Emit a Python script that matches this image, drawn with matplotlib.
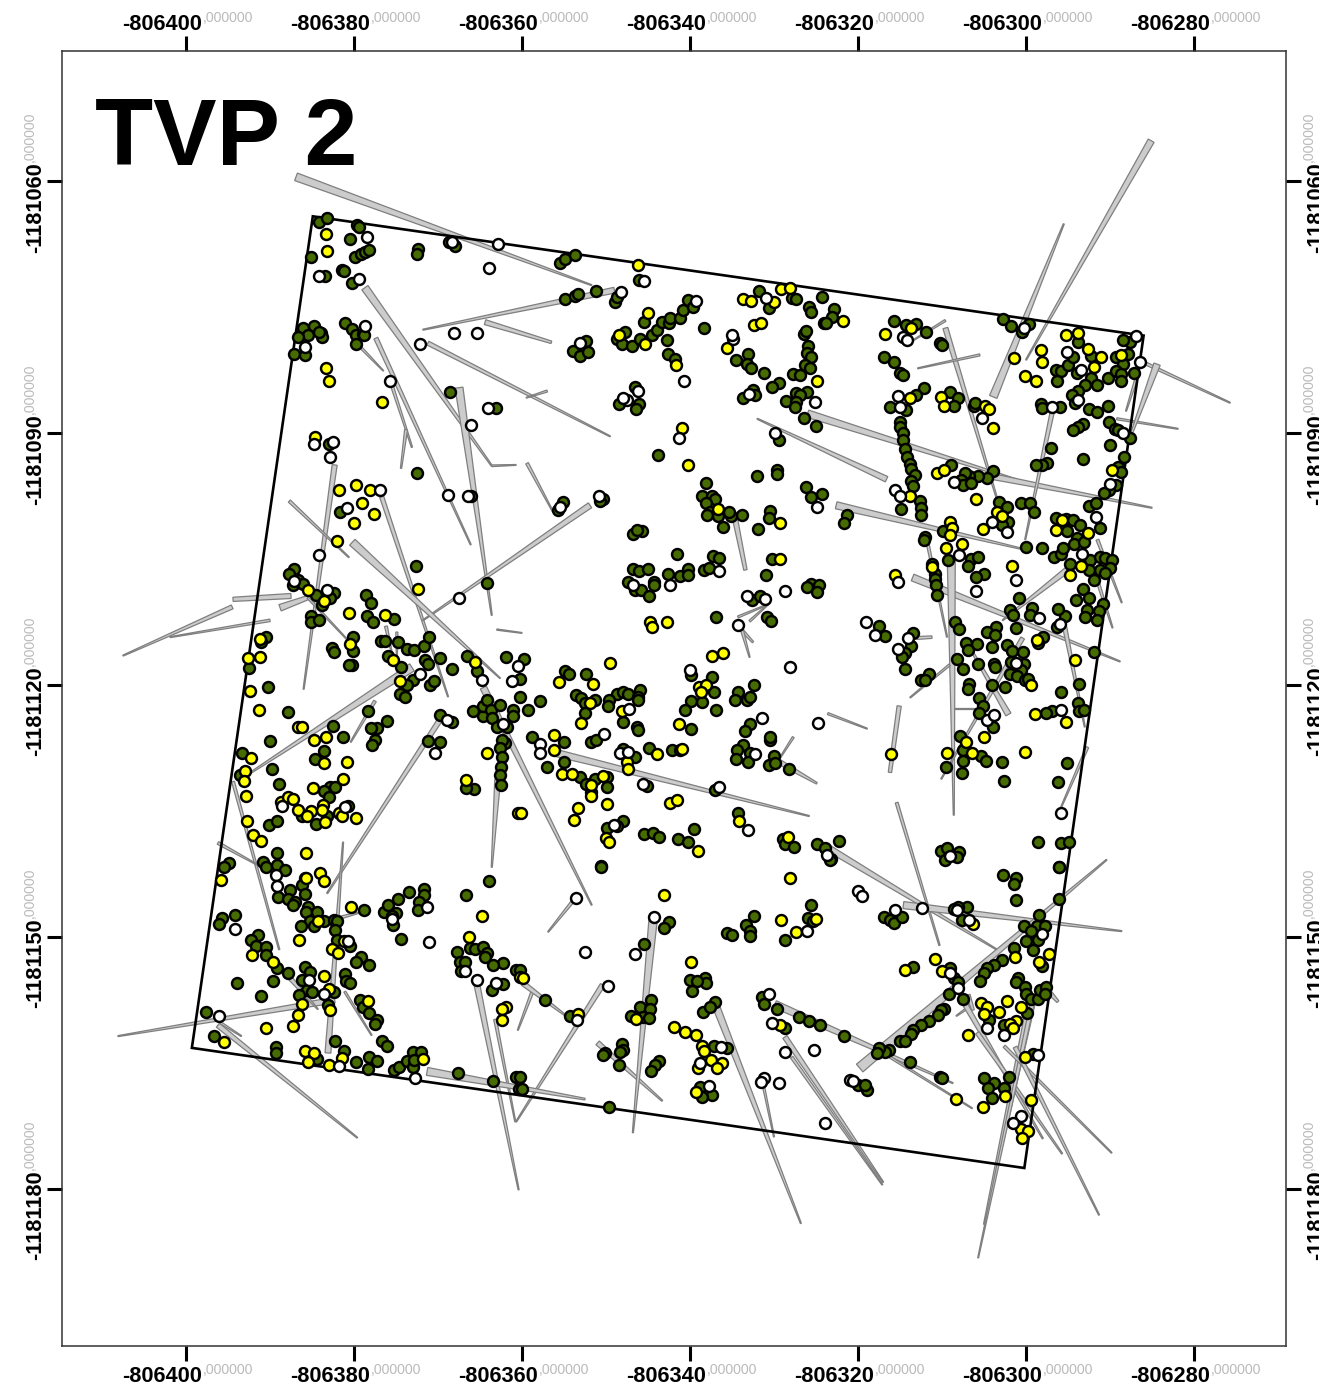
import matplotlib
matplotlib.use('Agg')
import matplotlib.pyplot as plt
from matplotlib.patches import Polygon
import numpy as np

plt.rcParams['font.family'] = ['Liberation Sans', 'DejaVu Sans']

# map origin, offsets below are metres east / south of it
X0 = -806400
Y0 = -1181060

xticks = [-806400, -806380, -806360, -806340, -806320, -806300, -806280]
yticks = [-1181060, -1181090, -1181120, -1181150, -1181180]

# plot outline (east, south)
plot_corners = [(15.1, 4.2), (114.0, 18.4), (99.8, 117.5), (0.7, 103.2)]

# stems: east1, south1, east2, south2, width1, width2
stems = [
    (13.1, -0.5, 48.3, 12.4, 0.95, 0.12), (21.3, 12.7, 36.4, 33.9, 0.9, 0.15), (36.4, 33.9, 39.3, 33.8, 0.2, 0.1),
    (51.0, 13.0, 28.2, 17.7, 0.7, 0.12), (35.6, 16.8, 43.5, 19.2, 0.6, 0.3), (28.8, 19.3, 50.5, 30.4, 0.5, 0.12),
    (43.0, 25.0, 40.5, 25.8, 0.25, 0.1), (22.6, 18.7, 33.9, 43.3, 0.5, 0.12), (20.5, 19.5, 23.5, 22.6, 0.3, 0.1),
    (24.3, 23.7, 26.9, 31.7, 0.35, 0.15), (26.2, 29.6, 25.6, 34.2, 0.35, 0.15), (32.5, 24.6, 36.4, 51.7, 0.95, 0.12),
    (17.7, 33.8, 14.0, 60.5, 0.6, 0.12), (12.3, 38.1, 19.4, 44.8, 0.35, 0.12), (23.3, 37.6, 31.2, 61.4, 0.5, 0.12),
    (40.6, 33.6, 43.7, 39.4, 0.35, 0.12), (48.1, 38.6, 28.2, 52.3, 0.7, 0.12), (19.8, 43.0, 37.4, 59.2, 0.95, 0.1),
    (5.6, 49.8, 12.5, 49.4, 0.5, 0.6), (5.5, 50.7, -7.5, 56.5, 0.5, 0.12), (10.0, 52.3, -1.9, 54.3, 0.3, 0.12),
    (11.2, 50.8, 14.5, 49.6, 0.8, 0.5), (14.5, 49.6, 19.2, 54.6, 0.25, 0.12), (37.0, 53.4, 40.0, 53.8, 0.15, 0.1),
    (26.9, 57.9, 7.3, 70.7, 1.0, 0.15), (30.2, 64.2, 16.8, 84.8, 0.6, 0.15), (22.5, 61.9, 19.6, 66.8, 0.35, 0.12),
    (5.6, 71.5, 11.1, 91.5, 0.35, 0.15), (3.8, 78.8, 8.5, 81.4, 0.35, 0.12), (16.9, 103.8, 18.7, 78.7, 0.7, 0.12),
    (37.1, 71.3, 36.4, 81.7, 0.7, 0.12), (35.4, 60.3, 48.3, 86.2, 0.8, 0.12), (44.1, 68.1, 74.2, 75.6, 0.85, 0.12),
    (65.4, 40.4, 66.6, 46.3, 0.6, 0.4), (65.7, 51.9, 69.3, 50.4, 0.25, 0.12), (67.1, 52.4, 69.3, 50.4, 0.25, 0.12),
    (66.2, 53.5, 67.5, 54.9, 0.35, 0.2), (66.2, 53.5, 67.1, 56.7, 0.35, 0.12), (76.4, 63.4, 81.1, 65.2, 0.25, 0.12),
    (72.3, 66.2, 70.7, 68.7, 0.25, 0.12), (70.7, 69.2, 75.1, 71.7, 0.6, 0.2), (86.5, 47.2, 111.2, 57.2, 0.85, 0.12),
    (91.1, 45.1, 91.4, 75.5, 0.95, 0.12), (88.2, 42.7, 90.6, 54.3, 0.35, 0.12), (104.9, 46.3, 97.2, 52.3, 0.7, 0.12),
    (87.0, 54.4, 88.8, 54.3, 0.35, 0.3), (90.9, 57.6, 86.2, 61.5, 0.25, 0.12), (84.9, 62.5, 83.8, 70.4, 0.5, 0.4),
    (99.6, 54.4, 89.9, 71.2, 0.5, 0.12), (97.9, 63.5, 93.0, 55.0, 0.7, 0.15), (91.4, 62.8, 94.3, 62.8, 0.12, 0.12),
    (104.6, 53.1, 107.0, 65.0, 0.5, 0.12), (107.3, 67.4, 104.2, 74.5, 0.35, 0.12), (84.6, 74.0, 89.7, 91.0, 0.35, 0.15),
    (108.5, 42.7, 111.4, 50.2, 0.35, 0.12), (108.6, 47.9, 110.3, 53.2, 0.35, 0.12), (74.0, 27.7, 100.9, 36.2, 0.9, 0.12),
    (83.4, 35.5, 68.0, 28.3, 0.7, 0.12), (77.4, 38.6, 100.4, 44.0, 0.85, 0.12), (96.1, 35.2, 115.0, 38.9, 0.7, 0.12),
    (90.4, 17.5, 96.6, 38.0, 0.6, 0.15), (90.4, 16.6, 86.5, 19.0, 0.25, 0.12), (94.5, 20.7, 87.1, 22.3, 0.25, 0.12),
    (96.1, 25.7, 104.5, 5.1, 0.95, 0.12), (114.9, -4.8, 100.0, 21.3, 0.8, 0.12), (103.1, 27.6, 99.9, 42.7, 0.5, 0.12),
    (110.8, 28.3, 118.1, 29.5, 0.25, 0.12), (114.2, 21.7, 124.3, 26.4, 0.35, 0.12), (115.6, 21.8, 112.4, 30.5, 0.8, 0.2),
    (113.2, 23.3, 111.9, 27.4, 0.35, 0.12), (76.1, 79.2, 96.7, 91.6, 0.8, 0.12), (85.4, 86.2, 111.4, 89.3, 0.85, 0.12),
    (80.2, 105.6, 109.6, 80.8, 1.2, 0.12), (70.1, 98.0, 91.3, 107.4, 0.9, 0.12), (83.8, 104.3, 93.6, 110.4, 0.25, 0.12),
    (93.1, 96.9, 93.7, 98.7, 0.5, 0.3), (93.1, 98.4, 91.7, 99.4, 0.25, 0.12), (92.8, 98.1, 102.0, 114.0, 0.6, 0.15),
    (94.2, 101.4, 104.3, 115.8, 0.5, 0.15), (100.7, 97.4, 95.0, 124.2, 1.0, 0.12), (100.7, 98.1, 94.3, 128.2, 0.5, 0.1),
    (97.4, 103.0, 110.2, 115.7, 0.35, 0.12), (98.7, 103.1, 108.7, 123.1, 0.5, 0.12), (102.9, 96.7, 103.8, 97.7, 0.5, 0.3),
    (49.0, 102.6, 56.7, 109.5, 0.6, 0.15), (55.6, 88.0, 53.2, 113.3, 1.0, 0.12), (46.0, 85.8, 43.1, 89.4, 0.35, 0.12),
    (49.6, 95.7, 39.3, 112.0, 0.6, 0.12), (41.2, 96.6, 39.5, 101.1, 0.35, 0.12), (34.6, 95.5, 39.6, 120.1, 0.7, 0.12),
    (36.8, 99.8, 39.2, 112.0, 0.35, 0.12), (28.7, 106.0, 47.5, 109.3, 0.95, 0.2), (17.7, 97.5, -8.1, 101.8, 0.7, 0.12),
    (3.8, 100.5, 20.4, 113.9, 0.6, 0.12), (4.1, 100.2, 6.6, 101.8, 0.25, 0.12), (12.4, 94.9, 15.7, 98.6, 0.5, 0.12),
    (40.1, 95.5, 45.4, 99.5, 0.6, 0.15), (18.9, 96.5, 22.1, 101.7, 0.25, 0.12), (18.3, 87.7, 21.0, 87.0, 0.35, 0.12),
    (71.3, 101.9, 83.0, 119.2, 0.6, 0.12), (72.1, 104.3, 82.9, 119.5, 0.35, 0.12), (63.2, 98.5, 73.2, 124.1, 0.85, 0.12),
    (68.8, 108.0, 70.0, 113.8, 0.25, 0.12), (23.8, 53.0, 24.5, 56.2, 0.35, 0.12), (25.1, 53.7, 25.1, 56.7, 0.25, 0.12),
]

# tree positions in 3 x 3 survey blocks, metres east / south of each block's corner
block_e = [0.48, 39.76, 79.05]
block_s = [3.45, 42.74, 80.83]

# green = alive
green_nw = [(15.4,1.4),(16.3,1.0),(19.9,1.8),(20.1,2.0),(19.1,3.5),(14.4,5.6),(19.6,5.6),(20.3,5.2),(20.8,5.0),(21.3,4.8),(27.1,4.6),(27.0,5.2),(31.5,4.3),(30.8,3.8),(18.1,7.1),(18.3,7.3),(16.1,7.8),(19.3,8.7),(18.5,13.4),(19.3,14.2),(13.5,14.0),(14.7,13.8),(14.0,14.9),(12.9,15.1),(15.6,14.7),(15.7,15.1),(15.3,14.5),(19.8,14.9),(20.6,14.8),(20.7,14.9),(19.7,16.0),(12.4,17.1),(13.7,17.3),(30.9,21.7),(36.4,23.6),(27.0,31.3),(33.5,34.0),(17.9,36.0),(16.5,27.9)]
green_n = [(4.8,6.3),(5.4,5.8),(6.5,5.4),(5.3,10.6),(6.5,10.2),(6.9,10.0),(9.0,9.6),(11.3,10.9),(11.5,10.4),(14.2,8.3),(14.8,13.3),(12.5,14.5),(11.5,15.3),(12.1,15.9),(13.3,16.2),(14.3,15.4),(15.7,14.9),(16.3,14.3),(16.9,13.3),(17.7,13.5),(17.9,12.9),(19.0,12.9),(19.4,11.9),(20.0,10.7),(20.6,11.5),(17.5,15.5),(17.6,17.1),(18.5,17.7),(21.9,14.0),(7.9,15.6),(6.3,16.8),(7.1,17.4),(8.1,16.9),(13.7,21.1),(11.8,23.1),(14.2,23.1),(13.8,23.7),(28.5,9.6),(29.6,11.7),(32.4,10.5),(32.8,10.6),(36.0,10.3),(34.4,11.6),(34.6,12.1),(37.4,11.8),(37.2,12.7),(36.2,13.4),(36.4,13.5),(33.8,14.8),(34.1,14.4),(34.3,16.2),(34.2,17.0),(34.7,17.5),(33.9,18.5),(34.5,18.8),(27.2,17.2),(25.7,17.9),(27.0,18.3),(27.5,18.8),(29.0,19.4),(32.5,19.5),(33.3,19.6),(30.8,20.6),(30.0,21.1),(27.7,21.4),(28.0,22.0),(26.5,22.4),(32.8,21.8),(34.2,21.7),(33.3,22.0),(31.7,22.7),(32.9,22.8),(32.7,23.4),(33.8,24.8),(35.2,25.7),(30.8,27.4),(30.6,31.0),(30.6,31.4),(28.2,31.7),(34.0,33.0),(34.6,34.2),(36.0,33.8),(16.4,29.2),(22.1,32.5),(21.7,34.0),(22.8,34.1),(23.2,34.4),(22.2,34.9),(22.6,35.9),(22.3,36.3),(23.6,36.4),(25.1,36.4),(26.4,36.3),(24.2,37.7),(24.9,35.9),(29.8,35.8),(29.7,36.7),(28.3,38.0),(14.5,38.2),(13.4,38.6),(13.9,38.1),(38.9,36.3),(38.6,37.3),(5.1,34.8),(4.5,35.7),(9.9,34.4),(9.5,34.6)]
green_ne = [(5.2,13.2),(6.7,13.7),(7.9,13.6),(9.0,14.5),(10.7,15.8),(11.0,16.1),(4.1,17.5),(5.2,18.1),(6.0,19.4),(6.3,19.7),(8.8,21.2),(7.9,22.0),(4.8,23.5),(6.7,23.8),(6.0,25.2),(6.0,25.8),(6.3,26.6),(6.3,27.4),(6.5,28.4),(6.8,29.4),(7.1,30.2),(7.3,30.8),(7.7,31.6),(7.3,32.3),(7.5,32.9),(8.3,34.6),(8.4,35.5),(8.5,36.3),(6.1,35.6),(12.0,30.4),(11.9,21.7),(12.9,22.4),(12.4,23.3),(14.8,23.3),(14.9,23.0),(18.2,13.0),(19.2,13.8),(20.5,14.5),(21.3,13.6),(22.7,23.1),(22.9,23.6),(25.0,23.5),(24.5,19.0),(25.1,19.2),(24.6,20.3),(26.0,18.5),(26.6,17.5),(27.1,15.7),(28.7,17.4),(27.0,19.4),(28.7,20.0),(28.0,20.8),(29.4,20.8),(30.7,20.0),(27.1,21.5),(26.4,22.0),(26.8,23.0),(28.5,23.7),(29.4,24.0),(30.7,23.3),(30.8,25.2),(31.6,26.1),(31.9,26.2),(33.3,27.1),(27.7,25.5),(27.1,25.8),(26.6,26.2),(23.9,28.3),(27.7,29.7),(30.9,28.0),(32.6,29.4),(31.9,30.6),(23.5,30.1),(22.8,30.4),(22.1,30.4),(32.3,31.2),(31.7,32.7),(30.8,33.3),(30.2,33.7),(17.0,31.1),(16.3,31.9),(15.2,31.7),(14.2,31.7),(13.7,31.3),(13.2,32.1),(13.5,32.7),(14.4,32.5),(17.7,34.8),(18.7,35.4),(20.4,34.9),(21.4,34.9),(21.9,36.0),(18.8,37.2),(18.1,37.5),(24.5,36.7),(25.7,36.8),(26.6,36.9),(27.4,37.5),(25.8,38.2),(27.0,39.1),(28.4,35.2),(29.3,34.9),(29.8,37.9),(8.9,38.9),(11.1,38.2),(33.1,17.1),(33.3,15.7),(32.5,15.5),(31.7,17.5),(32.5,18.3),(31.7,19.2),(32.3,19.5),(33.8,19.4),(32.3,20.4)]
green_w = [(12.4,3.4),(11.8,4.0),(12.9,4.8),(12.3,5.4),(13.5,5.2),(15.0,6.5),(17.1,6.3),(16.7,6.9),(15.7,7.7),(14.4,9.1),(14.4,9.7),(15.3,9.5),(20.9,6.5),(21.5,7.5),(21.1,9.1),(21.8,9.8),(24.3,9.4),(9.0,11.5),(8.4,12.1),(19.4,11.5),(19.4,13.2),(16.9,12.8),(17.1,13.3),(19.3,14.9),(18.9,14.9),(22.7,12.0),(23.2,12.0),(24.7,12.1),(25.8,13.0),(26.7,13.1),(27.8,12.6),(28.5,11.6),(23.6,13.8),(25.1,15.1),(28.0,14.3),(28.3,14.8),(29.8,14.0),(31.2,15.4),(33.0,13.8),(34.2,15.6),(37.6,13.9),(7.0,15.2),(9.3,17.5),(26.5,16.7),(25.8,17.3),(25.0,18.3),(25.6,18.7),(28.6,17.2),(29.1,16.8),(11.7,20.5),(21.2,20.3),(23.4,21.5),(17.0,22.1),(18.2,23.4),(9.5,23.9),(22.2,22.4),(21.6,22.4),(22.0,23.8),(21.7,24.4),(15.9,25.1),(14.9,26.1),(28.3,23.9),(29.8,24.0),(29.7,20.8),(31.2,21.7),(6.2,25.3),(6.0,28.0),(9.8,27.2),(10.6,29.1),(16.7,29.4),(17.3,29.4),(15.9,29.9),(16.5,30.6),(33.8,29.6),(32.9,29.5),(33.7,20.3),(34.9,20.9),(34.9,19.7),(35.4,19.0),(35.8,20.2),(36.9,19.6),(36.0,21.2),(36.5,22.2),(37.7,22.2),(38.4,20.2),(38.5,21.0),(37.5,24.2),(37.1,23.8),(36.9,24.8),(37.1,25.8),(37.0,27.0),(36.9,28.0),(37.0,29.2),(18.8,31.7),(16.3,32.9),(13.3,32.9),(15.0,33.8),(9.4,33.9),(10.4,33.5),(26.9,3.1),(35.3,5.1),(10.3,37.2)]
green_c = [(18.7,1.7),(23.0,1.9),(23.7,2.1),(30.0,2.3),(13.5,3.5),(14.2,3.7),(15.2,3.4),(17.6,4.0),(19.0,4.3),(20.0,3.4),(20.0,4.2),(21.9,3.6),(22.5,3.3),(29.3,4.2),(12.8,5.0),(13.7,6.0),(14.4,6.0),(16.0,5.0),(16.0,5.4),(15.4,6.7),(34.6,5.2),(34.2,5.6),(35.6,5.4),(35.3,6.2),(27.6,7.1),(28.6,6.7),(23.3,9.2),(29.4,9.2),(29.9,9.6),(5.4,15.6),(5.8,15.9),(7.8,15.9),(22.8,16.3),(20.4,16.1),(27.8,17.3),(14.3,17.9),(11.5,18.3),(12.3,18.1),(12.9,18.3),(14.0,18.7),(14.1,19.1),(6.7,18.5),(7.3,18.8),(8.9,19.0),(7.7,19.4),(7.7,20.6),(10.6,19.0),(10.5,19.8),(23.1,18.1),(25.9,18.1),(25.6,19.1),(27.0,19.1),(27.4,18.7),(20.4,19.2),(21.7,19.3),(19.6,20.2),(23.3,20.2),(2.4,19.2),(1.0,20.2),(12.3,21.7),(13.9,22.2),(14.1,22.6),(20.4,22.5),(27.4,21.9),(26.8,22.7),(1.4,23.5),(5.2,24.0),(8.5,24.0),(9.0,23.8),(15.3,24.8),(18.1,25.0),(19.0,25.0),(13.7,25.8),(12.3,24.9),(26.6,24.4),(25.8,25.0),(25.7,26.1),(27.4,25.4),(27.2,26.4),(29.8,23.8),(29.8,23.5),(30.2,25.7),(29.6,26.8),(30.4,26.6),(32.0,27.3),(5.2,26.4),(3.2,27.0),(7.1,28.2),(10.3,28.2),(8.9,28.4),(7.9,29.0),(10.4,29.4),(8.5,30.0),(23.2,29.8),(15.1,29.3),(26.0,32.5),(12.3,33.5),(10.3,34.3),(11.5,34.1),(14.8,35.0),(15.8,34.9),(16.5,35.3),(18.8,35.6),(20.0,36.0),(20.7,34.4),(9.7,38.8),(31.3,35.6),(31.5,36.2),(32.6,36.6),(35.4,36.2),(38.0,35.8),(36.3,36.7),(37.0,38.0),(0.0,18.7),(0.0,16.5),(0.5,14.2)]
green_e = [(20.9,0.8),(22.9,1.0),(24.3,2.0),(25.1,1.7),(25.3,0.9),(26.7,0.5),(27.8,0.2),(8.8,0.0),(11.7,2.4),(14.4,2.2),(15.2,2.0),(14.1,3.1),(15.9,4.1),(15.0,4.4),(9.7,2.8),(10.1,4.0),(10.1,4.6),(10.2,5.4),(10.4,6.6),(26.2,2.9),(28.6,2.4),(29.8,2.0),(30.4,2.1),(31.2,2.4),(31.0,3.3),(29.8,3.6),(28.4,3.6),(30.4,3.9),(29.0,4.7),(27.7,5.8),(26.9,7.1),(28.4,6.9),(20.1,6.9),(30.1,7.6),(29.6,8.5),(28.2,8.3),(28.0,9.2),(29.4,9.5),(25.6,9.0),(24.7,8.2),(24.6,10.4),(21.7,8.1),(21.4,8.9),(19.0,8.3),(19.4,8.9),(19.8,10.5),(12.5,9.7),(13.0,10.6),(17.4,10.4),(16.3,11.0),(17.3,11.3),(23.0,11.6),(22.4,12.2),(3.5,10.2),(4.2,11.4),(7.5,11.1),(7.2,12.6),(6.5,13.5),(6.2,13.9),(6.5,15.3),(13.8,12.2),(15.1,12.4),(14.0,13.1),(16.9,12.7),(18.7,12.5),(19.3,13.2),(20.6,13.3),(29.1,13.3),(12.7,14.2),(13.4,15.4),(15.2,14.8),(17.1,14.7),(17.3,15.1),(19.2,14.5),(19.0,15.9),(20.7,14.8),(20.4,15.5),(19.9,16.2),(20.8,16.7),(21.2,16.5),(9.4,15.9),(8.5,16.7),(8.9,16.7),(16.9,17.3),(18.4,17.5),(14.2,17.1),(14.0,17.7),(15.4,18.8),(15.8,19.7),(15.3,20.6),(17.0,22.2),(25.1,18.1),(27.3,17.1),(27.1,19.4),(27.2,20.4),(27.9,20.2),(24.0,20.3),(23.3,20.6),(13.1,23.3),(13.5,25.0),(15.6,25.7),(16.2,26.3),(13.4,26.3),(11.4,27.0),(13.3,27.7),(18.1,26.4),(18.3,28.7),(25.8,26.5),(24.8,28.8),(22.4,35.9),(25.1,36.1),(26.1,35.9),(24.9,38.9),(10.8,37.0),(11.6,36.7),(13.0,37.1),(11.3,38.1),(12.7,37.7)]
green_sw = [(4.6,0.3),(4.0,0.8),(8.7,0.2),(9.1,0.8),(10.3,0.6),(11.3,1.2),(13.7,2.2),(13.3,3.0),(13.7,4.0),(11.9,3.6),(10.5,4.4),(11.7,4.6),(12.5,5.0),(12.2,5.4),(14.0,5.6),(13.8,6.2),(15.1,6.2),(14.3,7.3),(13.2,7.8),(14.8,7.8),(15.9,7.3),(17.1,7.1),(17.5,7.3),(17.2,8.3),(20.7,5.9),(23.1,6.2),(23.6,5.4),(24.8,4.6),(26.1,3.8),(27.9,3.5),(27.8,4.2),(27.2,5.0),(27.1,6.0),(24.5,6.3),(24.1,6.7),(24.2,7.7),(25.1,9.4),(5.4,6.5),(3.8,6.9),(3.5,7.6),(8.1,8.9),(7.3,9.5),(7.9,10.2),(9.0,10.3),(9.1,11.3),(10.4,12.8),(11.7,13.5),(13.7,12.7),(14.3,13.3),(13.3,14.3),(13.9,15.5),(14.5,15.7),(13.0,16.1),(17.1,15.7),(16.4,17.3),(18.5,13.6),(18.6,14.4),(19.0,14.6),(20.4,11.5),(19.8,12.2),(21.3,12.5),(5.6,14.7),(9.9,14.4),(8.5,16.2),(20.2,16.7),(20.6,17.5),(21.3,18.2),(22.2,19.1),(22.0,19.5),(22.9,21.5),(23.5,22.1),(1.9,18.1),(2.8,21.0),(10.2,22.3),(10.2,23.0),(17.3,21.6),(18.3,22.7),(15.1,23.7),(19.8,24.0),(21.3,23.5),(22.2,23.9),(21.2,24.9),(24.3,25.0),(24.9,24.6),(25.8,23.9),(26.5,22.8),(27.5,22.9),(26.5,24.7),(26.7,23.8),(35.6,2.5),(32.8,4.2),(17.5,9.5),(19.0,10.2),(31.8,10.9),(33.3,10.5),(33.9,10.6),(34.9,10.3),(35.4,11.1),(35.1,11.5),(37.2,12.3),(36.1,12.5),(38.8,13.1),(32.1,12.2),(32.7,12.1),(32.3,13.2),(36.0,15.5),(37.2,14.8),(31.9,25.4),(36.1,26.3),(38.8,25.8),(39.2,27.3)]
green_s = [(9.7,0.8),(17.7,7.4),(17.2,8.1),(14.8,10.0),(20.2,14.3),(22.0,14.0),(22.1,14.7),(21.1,14.4),(20.5,15.6),(3.0,16.7),(6.0,18.6),(0.0,13.1),(15.6,16.7),(14.3,17.5),(15.5,17.7),(13.2,18.6),(14.7,18.7),(15.3,18.8),(23.2,16.9),(21.8,18.1),(22.6,17.5),(12.2,21.9),(12.3,22.6),(11.9,22.9),(10.1,23.0),(9.9,23.2),(11.8,24.4),(16.5,23.9),(16.1,24.4),(15.6,25.1),(0.0,25.8),(0.2,27.3),(10.6,29.4),(34.7,5.3),(27.9,6.7),(26.9,7.7),(27.4,8.5),(27.4,9.1),(24.7,8.7),(25.2,8.9),(34.3,6.9),(34.9,7.3),(31.6,9.5),(28.8,16.3),(29.1,17.1),(30.6,17.7),(33.2,18.7),(34.4,19.2),(35.7,19.6),(38.6,20.9),(31.5,20.0),(23.1,22.1),(24.7,22.4),(21.4,27.0),(22.8,28.0),(21.7,28.2),(36.9,0.0)]
green_se = [(18.2,1.8),(19.8,2.1),(19.5,2.9),(19.7,4.8),(24.9,0.8),(24.9,4.7),(22.5,6.5),(20.7,7.8),(22.2,7.9),(23.2,7.9),(21.6,8.5),(22.4,9.5),(21.0,9.7),(21.8,10.7),(19.5,10.5),(18.1,11.9),(17.1,12.5),(16.3,12.9),(15.9,13.5),(15.5,14.4),(13.9,5.6),(12.8,5.6),(12.4,5.8),(13.3,7.1),(4.0,6.8),(4.7,7.1),(5.2,7.5),(6.2,6.8),(11.9,12.9),(12.4,14.1),(12.9,14.5),(11.8,15.9),(13.4,16.6),(11.2,17.7),(10.8,17.9),(10.5,18.5),(9.4,19.2),(8.5,19.6),(7.5,20.2),(7.3,20.7),(6.0,21.5),(6.6,21.6),(4.6,22.6),(4.2,22.9),(3.4,22.4),(3.2,23.0),(7.1,24.1),(10.7,25.8),(11.0,25.9),(1.0,26.8),(2.0,27.4),(1.8,26.8),(20.0,14.0),(19.8,14.5),(20.8,15.1),(21.0,15.9),(21.5,16.5),(22.4,16.5),(22.6,15.5),(23.3,15.1),(23.2,15.9),(21.1,18.2),(16.5,19.1),(18.3,19.6),(15.9,26.0),(17.1,26.6),(16.4,27.2),(16.9,28.3),(18.9,25.8),(18.3,27.2),(22.9,12.6),(21.8,23.1),(7.5,12.7)]

# yellow = leaning / damaged
yellow_nw = [(16.2,2.8),(16.3,4.9),(16.2,18.8),(16.6,20.3),(22.8,22.8),(14.9,27.0),(17.7,33.3),(19.8,32.7),(21.4,33.3),(20.5,34.9),(21.9,36.2),(19.5,37.3),(17.5,39.4)]
yellow_n = [(14.1,6.5),(15.2,12.3),(11.8,14.9),(14.9,15.9),(18.6,18.4),(26.6,10.6),(27.5,10.8),(31.1,9.4),(32.1,9.3),(30.2,11.0),(27.9,13.7),(28.7,13.5),(38.4,13.2),(24.6,16.4),(35.4,20.3),(19.3,26.0),(20.0,30.4),(23.6,35.6),(31.0,37.3)]
yellow_ne = [(4.2,14.8),(7.3,14.1),(7.1,22.4),(10.8,22.3),(11.2,23.3),(16.1,23.3),(16.5,23.7),(17.0,25.9),(19.5,17.6),(22.7,16.7),(22.9,18.1),(20.8,19.8),(22.1,20.4),(25.7,14.9),(27.1,14.7),(28.3,16.6),(29.9,17.5),(29.0,18.7),(32.2,17.3),(31.2,31.0),(10.3,31.3),(11.2,31.0),(7.1,34.0),(15.0,34.4),(17.5,36.0),(18.1,36.4),(15.8,38.0),(25.2,36.9),(24.5,38.1),(28.3,38.5),(11.9,37.2),(12.1,37.9),(11.9,38.7)]
yellow_w = [(14.0,6.0),(16.0,7.3),(18.9,8.7),(23.2,8.9),(27.1,5.8),(8.3,11.8),(6.9,14.0),(8.3,13.9),(19.1,12.4),(24.2,14.3),(25.0,16.8),(33.9,14.5),(7.1,18.0),(8.2,20.2),(12.8,22.3),(13.3,22.2),(14.8,23.8),(16.2,23.4),(7.3,25.9),(6.5,27.5),(6.4,28.7),(16.0,26.5),(18.7,26.4),(14.6,29.5),(18.2,28.5),(35.4,25.4),(32.8,28.6),(6.7,30.5),(10.8,31.2),(11.7,30.6),(12.3,30.8),(12.8,32.1),(14.4,32.2),(13.9,32.9),(15.8,31.5),(15.7,32.1),(17.7,32.5),(18.1,32.8),(16.1,33.6),(19.7,33.1),(6.8,33.4),(7.5,35.1),(8.4,35.8),(13.8,37.3),(39.1,32.5)]
yellow_c = [(31.0,2.3),(15.5,9.8),(15.7,10.4),(17.5,9.7),(22.9,13.8),(24.2,13.4),(10.7,14.6),(4.7,16.9),(8.7,17.1),(21.3,17.5),(22.1,17.3),(21.6,18.1),(8.3,19.4),(12.2,20.4),(7.3,21.8),(18.9,21.9),(4.1,23.2),(4.1,25.0),(16.3,25.5),(19.3,24.9),(12.7,26.4),(12.8,27.2),(5.0,27.9),(6.2,27.9),(9.9,28.1),(8.4,29.2),(8.4,30.5),(10.3,31.4),(6.9,31.9),(6.4,33.3),(17.8,31.3),(18.7,31.0),(26.1,33.5),(31.9,35.4),(10.2,35.5),(10.6,35.9),(21.2,37.0),(0.1,32.5)]
yellow_e = [(11.4,1.0),(13.3,0.5),(9.7,3.2),(19.3,3.1),(27.5,3.1),(26.2,4.2),(5.4,4.2),(22.3,11.9),(26.8,14.3),(21.5,17.3),(22.0,20.7),(25.7,21.7),(15.9,23.4),(13.8,24.0),(14.5,25.4),(11.6,25.3),(20.8,25.2),(4.9,25.5)]
yellow_sw = [(3.7,2.4),(13.8,2.2),(15.5,1.6),(16.0,2.5),(19.2,5.6),(15.2,7.3),(13.0,9.5),(16.9,10.6),(17.6,11.1),(18.3,9.7),(7.4,11.3),(9.9,12.2),(16.0,13.8),(16.6,15.4),(13.3,17.1),(16.7,17.9),(12.9,18.5),(12.2,19.8),(9.0,20.0),(21.2,16.8),(4.1,21.7),(13.7,22.7),(14.8,23.0),(14.0,24.0),(16.5,24.4),(18.1,23.6),(27.7,23.7),(34.7,6.7),(33.2,9.2),(37.6,17.5),(37.1,17.7),(37.1,19.0),(39.3,13.9)]
yellow_s = [(17.1,4.2),(32.1,2.2),(31.1,7.2),(32.9,8.6),(35.2,7.0),(20.3,12.1),(0.3,14.0),(6.9,18.3),(13.8,18.9),(18.3,19.9),(19.6,20.5),(21.0,20.8),(21.7,22.2),(21.9,22.7),(22.7,23.8),(24.1,24.2),(23.4,24.8),(21.2,24.8),(20.9,27.6),(30.9,19.6)]
yellow_se = [(6.5,13.1),(10.1,11.8),(11.0,13.2),(14.6,7.6),(19.6,11.6),(23.7,11.2),(22.5,12.2),(15.6,17.0),(16.3,17.5),(15.9,18.3),(17.7,18.1),(18.7,16.8),(20.3,17.5),(14.0,20.8),(19.8,19.2),(19.0,19.5),(19.4,20.0),(20.8,23.5),(12.6,28.5),(15.8,29.4),(18.5,28.1),(21.5,28.6),(20.3,32.0),(21.2,32.3),(20.5,33.1)]

# white = dead
white_nw = [(21.1,3.2),(31.2,3.8),(36.7,4.1),(35.6,6.9),(15.4,7.8),(20.1,8.2),(20.8,13.8),(31.4,14.6),(34.2,14.6),(27.4,16.0),(13.7,16.3),(23.8,20.3),(33.4,25.6),(35.5,23.6),(14.8,27.9),(17.0,27.6),(16.7,29.4),(30.7,33.9),(33.1,34.1),(18.7,35.5),(22.6,33.3)]
white_n = [(14.8,8.5),(12.0,9.8),(21.0,10.8),(7.1,15.8),(14.0,21.5),(12.7,22.6),(12.3,22.4),(29.3,10.5),(25.4,15.3),(25.2,14.9),(27.3,21.9),(35.1,22.9),(19.5,20.3),(18.9,27.2),(30.3,26.5),(35.4,35.4),(4.8,35.3),(9.4,34.0)]
white_ne = [(6.3,15.1),(6.8,15.5),(5.7,22.1),(6.0,23.4),(15.7,24.8),(20.7,14.1),(24.0,23.5),(25.8,16.9),(27.5,19.0),(27.1,22.6),(34.0,15.0),(34.5,18.1),(32.5,26.6),(30.9,32.6),(12.4,32.4),(5.4,33.3),(6.0,34.0),(16.9,37.2),(18.7,38.3),(29.3,36.6)]
white_w = [(15.4,1.8),(12.4,4.9),(16.3,6.0),(32.0,6.9),(27.4,15.9),(34.8,16.7),(38.3,16.8),(30.6,21.4),(29.2,25.3),(37.2,21.9),(10.9,31.7),(18.5,31.8),(39.1,15.0)]
white_c = [(23.7,3.7),(13.5,5.4),(17.8,5.3),(31.6,6.1),(27.0,6.7),(29.2,7.0),(26.0,10.1),(20.2,15.5),(32.1,15.1),(13.0,20.1),(10.0,23.1),(2.4,24.3),(2.4,25.3),(11.9,25.4),(12.8,25.2),(28.0,25.5),(28.8,21.2),(35.5,21.8),(23.7,29.4),(14.7,29.0),(27.1,34.5),(11.2,33.9),(36.5,37.5)]
white_e = [(13.0,1.8),(27.6,1.7),(5.7,5.0),(19.8,4.8),(15.0,6.1),(22.5,9.3),(25.0,10.0),(1.9,9.7),(3.0,11.3),(6.9,11.7),(5.7,13.0),(19.8,14.6),(25.1,20.2),(16.3,21.4),(17.1,20.8),(25.1,32.5),(11.9,37.6)]
white_sw = [(10.2,1.8),(10.4,3.1),(24.1,7.0),(28.2,5.6),(28.5,9.8),(5.4,8.2),(18.8,9.6),(14.2,14.3),(15.9,16.0),(3.4,18.6),(17.7,24.5),(26.8,26.0),(32.7,13.2),(34.2,14.3),(36.4,14.6)]
white_s = [(6.7,4.5),(16.0,6.8),(7.7,11.0),(13.7,11.2),(10.5,15.0),(6.8,19.0),(34.2,8.5),(29.6,16.0),(30.0,19.4),(31.5,22.8),(35.0,22.6),(23.9,22.3),(21.4,24.2),(22.5,26.9),(29.0,26.0),(28.7,26.4),(30.8,26.5),(36.3,31.3),(39.3,26.2)]
white_se = [(1.0,3.7),(1.4,4.3),(5.4,6.0),(8.6,5.7),(12.7,6.0),(14.2,7.2),(22.8,8.8),(11.9,13.4),(12.9,15.2),(16.3,20.0),(18.3,20.8),(22.4,23.2),(0.4,26.3),(20.3,30.5),(19.4,31.3)]

greens = [green_nw, green_n, green_ne, green_w, green_c, green_e, green_sw, green_s, green_se]
yellows = [yellow_nw, yellow_n, yellow_ne, yellow_w, yellow_c, yellow_e, yellow_sw, yellow_s, yellow_se]
whites = [white_nw, white_n, white_ne, white_w, white_c, white_e, white_sw, white_s, white_se]


def block_xy(blocks):
    xs, ys = [], []
    for i, pts in enumerate(blocks):
        for e, s in pts:
            xs.append(X0 + block_e[i % 3] + e)
            ys.append(Y0 - block_s[i // 3] - s)
    return xs, ys


fig = plt.figure(figsize=(13.19, 13.88), dpi=100)
ax = fig.add_axes([62/1319, 42/1388, 1224/1319, 1295/1388])

# stems as tapered polygons
for e1, s1, e2, s2, w1, w2 in stems:
    a = np.array([X0 + e1, Y0 - s1])
    b = np.array([X0 + e2, Y0 - s2])
    n = np.array([-(b - a)[1], (b - a)[0]]) / np.hypot(*(b - a))
    pts = [a + n*w1/2, b + n*w2/2, b - n*w2/2, a - n*w1/2]
    ax.add_patch(Polygon(pts, closed=True, fc='#cccccc', ec='#7f7f7f', lw=0.9, zorder=1))

corners = [(X0 + e, Y0 - s) for e, s in plot_corners]
ax.add_patch(Polygon(corners, closed=True, fc='none', ec='black', lw=1.9, zorder=2))

for blocks, col, z in [(greens, '#466b00', 3), (yellows, '#ffff00', 4), (whites, 'white', 5)]:
    x, y = block_xy(blocks)
    ax.scatter(x, y, s=62, c=col, edgecolors='black', linewidths=1.75, zorder=z)

ax.set_xlim(-806414.76, -806269.05)
ax.set_ylim(-1181198.69, -1181044.52)
ax.set_xticks(xticks)
ax.set_yticks(yticks)
ax.tick_params(length=10.5, width=2.2, top=True, right=True, labelbottom=False, labelleft=False)
for sp in ax.spines.values():
    sp.set_linewidth(1.1)
    sp.set_color('#333333')

ax.annotate('TVP 2', xy=(0, 1), xycoords='axes fraction', xytext=(24, -82), textcoords='offset points',
            fontsize=68.5, fontweight='bold', color='black', ha='left', va='baseline')

small = dict(fontsize=10.2, color='#bbbbbb', va='baseline')
big = dict(fontsize=15.7, fontweight='bold', color='black', va='baseline')

for t in xticks:
    for yfrac, dy_big, dy_small in [(1, 15, 21), (0, -26, -20)]:
        ax.annotate(str(t), xy=(t, yfrac), xycoords=('data', 'axes fraction'), xytext=(11.5, dy_big),
                    textcoords='offset points', ha='right', **big)
        ax.annotate(',000000', xy=(t, yfrac), xycoords=('data', 'axes fraction'), xytext=(12, dy_small),
                    textcoords='offset points', ha='left', **small)

for t in yticks:
    for xfrac, dx_big, dx_small in [(0, -15, -20), (1, 26, 19.5)]:
        ax.annotate(str(t), xy=(xfrac, t), xycoords=('axes fraction', 'data'), xytext=(dx_big, 13.7),
                    textcoords='offset points', rotation=90, ha='right', rotation_mode='anchor',
                    annotation_clip=False, **big)
        ax.annotate(',000000', xy=(xfrac, t), xycoords=('axes fraction', 'data'), xytext=(dx_small, 14),
                    textcoords='offset points', rotation=90, ha='left', rotation_mode='anchor',
                    annotation_clip=False, **small)

plt.savefig('out.png', dpi=100)
